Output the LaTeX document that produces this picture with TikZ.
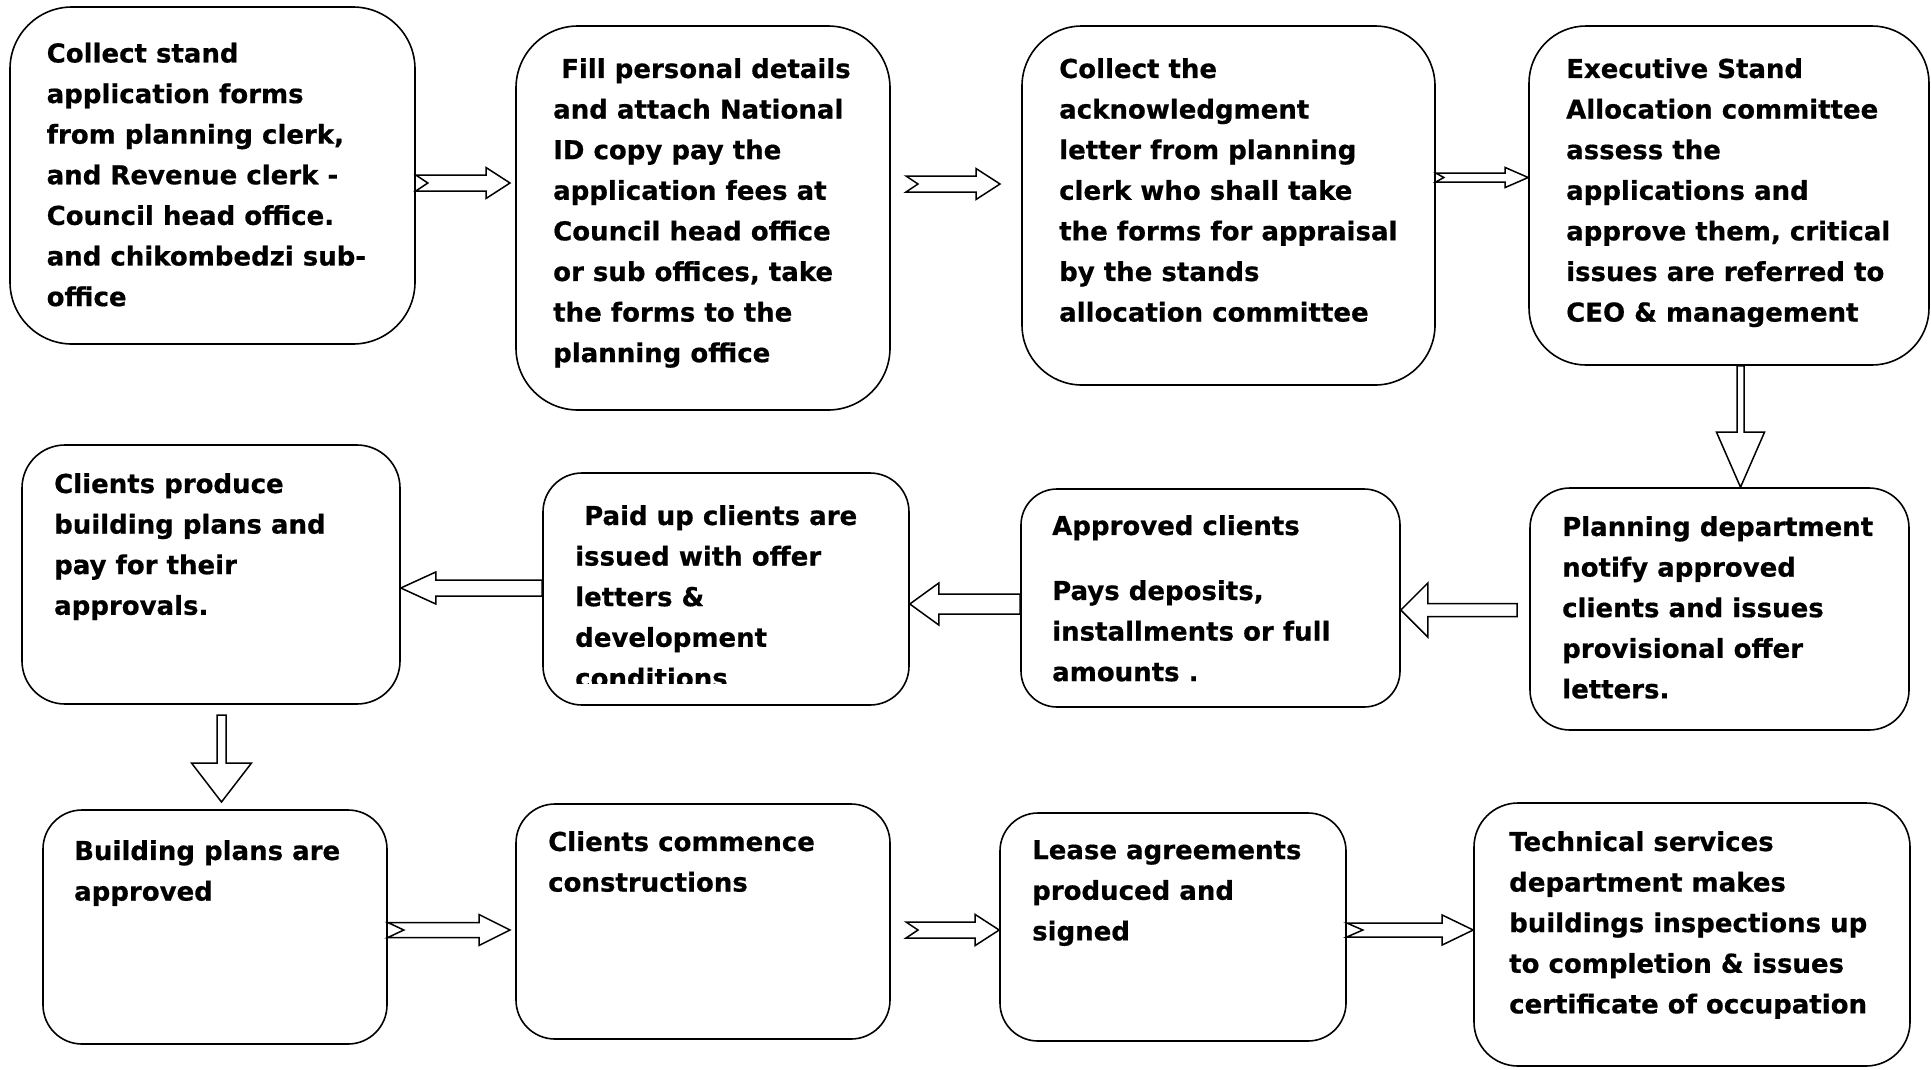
\documentclass[tikz,border=0pt]{standalone}
\usepackage{fontspec}
\setmainfont{DejaVu Sans}[BoldFeatures={FakeBold=0.6}]
\usetikzlibrary{calc}

\tikzset{
  stage/.style={draw, line width=1.6pt, rounded corners=#1, fill=white},
  txt/.style={anchor=north west, inner sep=0pt, align=left,
    font=\bfseries\fontsize{26}{40.6}\selectfont},
  blockarr/.style={draw, fill=white, line width=1.5pt, line join=miter}
}

% block arrows: tail, tip, shaft half, head half, head length (, notch)
\newcommand{\arrowR}[6]{%
  \draw[blockarr] let \p1=(#1), \p2=(#2) in
    (\x1,\y1+#3) -- (\x2-#5,\y1+#3) -- (\x2-#5,\y1+#4) -- (\x2,\y1)
    -- (\x2-#5,\y1-#4) -- (\x2-#5,\y1-#3) -- (\x1,\y1-#3) -- (\x1+#6,\y1) -- cycle;}
\newcommand{\arrowL}[5]{%
  \draw[blockarr] let \p1=(#1), \p2=(#2) in
    (\x1,\y1+#3) -- (\x2+#5,\y1+#3) -- (\x2+#5,\y1+#4) -- (\x2,\y1)
    -- (\x2+#5,\y1-#4) -- (\x2+#5,\y1-#3) -- (\x1,\y1-#3) -- cycle;}
\newcommand{\arrowD}[5]{%
  \draw[blockarr] let \p1=(#1), \p2=(#2) in
    (\x1-#3,\y1) -- (\x1-#3,\y2+#5) -- (\x1-#4,\y2+#5) -- (\x1,\y2)
    -- (\x1+#4,\y2+#5) -- (\x1+#3,\y2+#5) -- (\x1+#3,\y1) -- cycle;}

\begin{document}
\begin{tikzpicture}[x=1pt, y=-1pt, line cap=round, line join=round]
  \useasboundingbox (0,0) rectangle (1931,1069);

  \node[stage=62pt, minimum width=405pt, minimum height=337pt] (b1) at (212.5,175.5) {};
  \node[stage=62pt, minimum width=374pt, minimum height=384pt] (b2) at (703,218) {};
  \node[stage=60pt, minimum width=413pt, minimum height=359pt] (b3) at (1228.5,205.5) {};
  \node[stage=57pt, minimum width=400pt, minimum height=339pt] (b4) at (1729,195.5) {};
  \node[stage=40pt, minimum width=379pt, minimum height=242pt] (b5) at (1719.5,609) {};
  \node[stage=36pt, minimum width=379pt, minimum height=218pt] (b6) at (1210.5,598) {};
  \node[stage=39pt, minimum width=366pt, minimum height=232pt] (b7) at (726,589) {};
  \node[stage=43pt, minimum width=378pt, minimum height=259pt] (b8) at (211,574.5) {};
  \node[stage=39pt, minimum width=344pt, minimum height=234pt] (b9) at (215,927) {};
  \node[stage=39pt, minimum width=374pt, minimum height=235pt] (b10) at (703,921.5) {};
  \node[stage=38pt, minimum width=346pt, minimum height=228pt] (b11) at (1173,927) {};
  \node[stage=44pt, minimum width=436pt, minimum height=263pt] (b12) at (1692,934.5) {};

  \node[txt] (t1) at (46.5,42.5) {Collect stand\\application forms\\from planning clerk,\\and Revenue clerk -\\Council head office.\\and chikombedzi sub-\\office};
  \node[txt] (t2) at (553,58) {\hspace*{8pt}Fill personal details\\and attach National\\ID copy pay the\\application fees at\\Council head office\\or sub offices, take\\the forms to the\\planning office};
  \node[txt] (t3) at (1059,58) {Collect the\\acknowledgment\\letter from planning\\clerk who shall take\\the forms for appraisal\\by the stands\\allocation committee};
  \node[txt] (t4) at (1566,58) {Executive Stand\\Allocation committee\\assess the\\applications and\\approve them, critical\\issues are referred to\\CEO \& management};
  \node[txt] (t5) at (1562,516) {Planning department\\notify approved\\clients and issues\\provisional offer\\letters.};
  \node[txt] (t6) at (1052,515) {Approved clients\\[24.4pt]Pays deposits,\\installments or full\\amounts .};
  \begin{scope}
    \clip (543,473) rectangle (909,683);
    \node[txt] (t7) at (575,505) {\hspace*{9pt}Paid up clients are\\issued with offer\\letters \&\\development\\conditions};
  \end{scope}
  \node[txt] (t8) at (54,473) {Clients produce\\building plans and\\pay for their\\approvals.};
  \node[txt] (t9) at (74,840) {Building plans are\\approved};
  \node[txt] (t10) at (548,831) {Clients commence\\constructions};
  \node[txt] (t11) at (1032,840) {Lease agreements\\produced and\\signed};
  \node[txt] (t12) at (1509,831) {Technical services\\department makes\\buildings inspections up\\to completion \& issues\\certificate of occupation};

  \coordinate (e1) at (510,183);
  \coordinate (s2) at (906,184);
  \coordinate (e2) at (1000,184);
  \coordinate (s5) at (1517,610);
  \coordinate (s8) at (221.5,715);
  \coordinate (e8) at (221.5,802);
  \coordinate (e9) at (510,930);
  \coordinate (s10) at (906,930);

  \arrowR{b1.east |- 0,183}{e1}{8pt}{15.5pt}{24pt}{12pt}
  \arrowR{s2}{e2}{8pt}{15.5pt}{24pt}{12pt}
  \arrowR{b3.east |- 0,177.5}{b4.west |- 0,177.5}{4.5pt}{10pt}{23pt}{8pt}
  \arrowD{b4.south -| 1740.5,0}{b5.north -| 1740.5,0}{3.5pt}{24pt}{55pt}
  \arrowL{s5}{b6.east |- 0,610}{6.5pt}{27pt}{27pt}
  \arrowL{b6.west |- 0,604}{b7.east |- 0,604}{10pt}{21pt}{29pt}
  \arrowL{b7.west |- 0,588}{b8.east |- 0,588}{8pt}{16pt}{35pt}
  \arrowD{s8}{e8}{4.5pt}{30pt}{39pt}
  \arrowR{b9.east |- 0,930}{e9}{7.5pt}{15.5pt}{31pt}{16pt}
  \arrowR{s10}{b11.west |- 0,930}{8pt}{15.5pt}{24pt}{12pt}
  \arrowR{b11.east |- 0,930}{b12.west |- 0,930}{7pt}{15pt}{31pt}{16pt}
\end{tikzpicture}
\end{document}
